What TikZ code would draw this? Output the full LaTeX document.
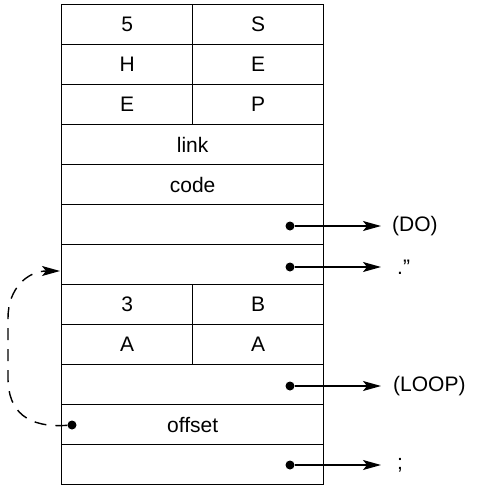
\documentclass[tikz,border=0pt]{standalone}
\usepackage{fontspec}
\setmainfont{Liberation Sans}
\usetikzlibrary{arrows.meta}
\begin{document}
\begin{tikzpicture}[x=1pt,y=-1pt,
  cell/.style={draw,line width=1.3pt,minimum height=40pt,inner sep=0pt,
    font=\fontsize{21}{21}\selectfont,anchor=north west},
  full/.style={cell,minimum width=262pt},
  half/.style={cell,minimum width=131pt},
  dot/.style={circle,fill,inner sep=0pt,minimum size=9pt},
  lbl/.style={anchor=west,inner sep=0pt,font=\fontsize{21}{21}\selectfont},
  arr/.style={-{Stealth[length=18pt,width=10pt,inset=4pt]},line width=1.4pt,shorten >=11pt},
  dasharr/.style={-{Stealth[length=18pt,width=10pt,inset=4pt]},line width=1.4pt,dash pattern=on 12pt off 9pt},
]
\useasboundingbox (0,0) rectangle (479,485);
% rows
\node[half] (r1a) at (61,4) {5};
\node[half] (r1b) at (192,4) {S};
\node[half] (r2a) at (61,44) {H};
\node[half] (r2b) at (192,44) {E};
\node[half] (r3a) at (61,84) {E};
\node[half] (r3b) at (192,84) {P};
\node[full] (r4) at (61,124) {link};
\node[full] (r5) at (61,164) {code};
\node[full] (r6) at (61,204) {};
\node[full] (r7) at (61,244) {};
\node[half] (r8a) at (61,284) {3};
\node[half] (r8b) at (192,284) {B};
\node[half] (r9a) at (61,324) {A};
\node[half] (r9b) at (192,324) {A};
\node[full] (r10) at (61,364) {};
\node[full] (r11) at (61,404) {offset};
\node[full] (r12) at (61,444) {};
% dots
\node[dot] (d6) at (290,226) {};
\node[dot] (d7) at (290,267) {};
\node[dot] (d10) at (290,386) {};
\node[dot] (d11) at (72,425) {};
\node[dot] (d12) at (290,465) {};
% labels
\node[lbl] (t6) at (392,226) {(DO)};
\node[lbl] (t7) at (397,267) {.”};
\node[lbl] (t10) at (393,386) {(LOOP)};
\node[lbl] (t12) at (397,465) {;};
% arrows
\draw[arr] (d6) -- (t6.west);
\draw[arr,shorten >=16pt] (d7) -- (t7.west);
\draw[arr,shorten >=12pt] (d10) -- (t10.west);
\draw[arr,shorten >=16pt] (d12) -- (t12.west);
\coordinate (back) at (60,271);
\draw[dasharr] (d11) .. controls (28,428) and (8,412) .. (8,378) -- (8,318)
  .. controls (8,288) and (28,271) .. (back);
\end{tikzpicture}
\end{document}
